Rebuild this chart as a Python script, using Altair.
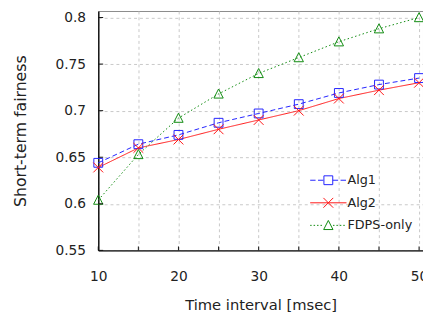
import altair as alt
import pandas as pd

# ---- data ----
time_ms = [10, 15, 20, 25, 30, 35, 40, 45, 50]
alg1 = [0.644, 0.664, 0.674, 0.687, 0.697, 0.707, 0.719, 0.728, 0.735]
alg2 = [0.639, 0.660, 0.669, 0.680, 0.690, 0.700, 0.713, 0.722, 0.730]
fdps = [0.604, 0.653, 0.692, 0.718, 0.740, 0.757, 0.774, 0.788, 0.800]
series_names = ["Alg1", "Alg2", "FDPS-only"]
x_ticks = [10, 15, 20, 25, 30, 35, 40, 45, 50]
y_ticks = [0.55, 0.6, 0.65, 0.7, 0.75, 0.8]

colors = ["#2222ff", "#ff1414", "#0e8a0e"]
dashes = [[5, 3], [1, 0], [1.5, 2.5]]

rows = []
for name, vals in zip(series_names, [alg1, alg2, fdps]):
    for t, v in zip(time_ms, vals):
        rows.append({"x": t, "y": v, "series": name})
df = pd.DataFrame(rows)

# marker shapes (unit space, scaled by symbol size)
marker_paths = [
    "M-0.9,-0.9H0.9V0.9H-0.9Z",
    "M-1,-1L1,1M-1,1L1,-1",
    "M0,-1L-0.95,0.85H0.95Z",
]


def segs(a, b, dash, gap):
    out = []
    t = a
    while t < b - 1e-9:
        e = min(t + dash, b)
        out.append(f"M{t:.2f},0H{e:.2f}")
        t = e + gap
    return "".join(out)


L = 3.7
legend_paths = [
    segs(-L, -0.9, 1.1, 0.5) + segs(0.9, L, 1.1, 0.5) + marker_paths[0],
    f"M{-L},0H{L}" + marker_paths[1],
    segs(-L, -0.95, 0.3, 0.4) + segs(0.95, L, 0.3, 0.4) + marker_paths[2],
]

xscale = alt.Scale(domain=[10, 50.49], nice=False, zero=False)
yscale = alt.Scale(domain=[0.55, 0.807], nice=False, zero=False)
cscale = alt.Scale(domain=series_names, range=colors)

x_axis = alt.Axis(
    values=x_ticks,
    labelExpr="datum.value % 10 == 0 ? datum.label : ''",
    title="Time interval [msec]",
    labelFlush=False,
    labelOverlap=False,
    ticks=False,
    tickSize=0,
    labelPadding=20,
    titlePadding=14,
    titleFontSize=15,
)
y_axis = alt.Axis(
    values=y_ticks,
    format="~g",
    title="Short-term fairness",
    ticks=False,
    tickSize=0,
    labelPadding=13,
    titlePadding=27,
    titleFontSize=16,
)

X = alt.X("x:Q", scale=xscale, axis=x_axis)
Y = alt.Y("y:Q", scale=yscale, axis=y_axis)

base = alt.Chart(df)

lines = base.mark_line(strokeWidth=1).encode(
    x=X,
    y=Y,
    color=alt.Color("series:N", scale=cscale, legend=None),
    strokeDash=alt.StrokeDash(
        "series:N", scale=alt.Scale(domain=series_names, range=dashes), legend=None
    ),
)

points = base.mark_point(filled=False, size=100, strokeWidth=1, opacity=1).encode(
    x=X,
    y=Y,
    color=alt.Color("series:N", scale=cscale, legend=None),
    shape=alt.Shape(
        "series:N", scale=alt.Scale(domain=series_names, range=marker_paths), legend=None
    ),
)

leg = alt.Legend(
    title=None,
    orient="none",
    legendX=228,
    legendY=166,
    padding=0,
    rowPadding=8,
    labelOffset=13,
    symbolSize=100,
    symbolStrokeWidth=1,
    labelFont="DejaVu Sans",
    labelFontSize=13,
    labelColor="#222",
)

legend_layer = (
    base.transform_filter("false")
    .mark_point(filled=False, size=100, strokeWidth=1, opacity=1)
    .encode(
        x=X,
        y=Y,
        color=alt.Color("series:N", scale=cscale, legend=leg),
        shape=alt.Shape(
            "series:N",
            scale=alt.Scale(domain=series_names, range=legend_paths),
            legend=leg,
        ),
    )
)

ytick_df = pd.DataFrame({"y": y_ticks})
xtick_df = pd.DataFrame({"x": x_ticks})

yticks = alt.Chart(ytick_df).mark_rule(color="#111", strokeWidth=1).encode(
    y=Y,
    x=alt.value(0),
    x2=alt.value(5),
)
xticks = alt.Chart(xtick_df).mark_rule(color="#111", strokeWidth=1).encode(
    x=X,
    y=alt.value(244),
    y2=alt.value(240),
)

chart = (
    alt.layer(lines, points, legend_layer, yticks, xticks)
    .resolve_scale(shape="independent", color="independent")
    .properties(
        width=331,
        height=244,
        autosize=alt.AutoSizeParams(type="none"),
        padding={"left": 92, "top": 0, "right": 0, "bottom": 73},
        background="white",
    )
    .configure_view(stroke="#8a8a8a", strokeWidth=1)
    .configure_axis(
        grid=True,
        gridColor="#c8c8c8",
        gridDash=[3, 3],
        gridWidth=1,
        domainColor="#1a1a1a",
        domainWidth=1.5,
        labelFont="DejaVu Sans",
        labelFontSize=14,
        labelColor="#222",
        titleFont="DejaVu Sans",
        titleFontWeight="normal",
        titleColor="#222",
    )
)

chart.save("out.html", embed_options={"renderer": "svg", "actions": False})
